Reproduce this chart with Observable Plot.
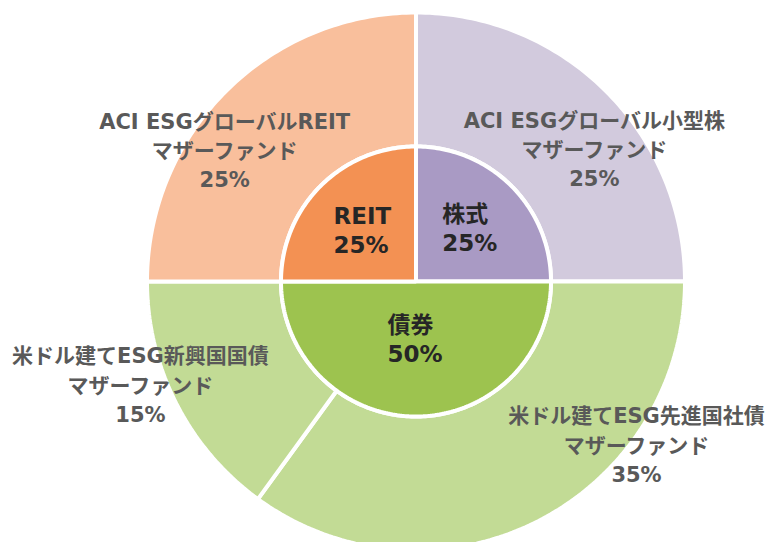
<!DOCTYPE html>
<html>
<head>
<meta charset="utf-8">
<script src="https://cdn.jsdelivr.net/npm/d3@7"></script>
<script src="https://cdn.jsdelivr.net/npm/@observablehq/plot@0.6"></script>
<style>
  html, body { margin: 0; padding: 0; background: #fff; }
  #chart svg { display: block; }
</style>
</head>
<body>
<div id="chart"></div>
<script>
// ---- data ----
const innerNames = ["株式", "債券", "REIT"];
const innerValues = [25, 50, 25];
const innerColors = ["#A99AC4", "#9DC34F", "#F39153"];

const outerNames = [
  "ACI ESGグローバル小型株\nマザーファンド",
  "米ドル建てESG先進国社債\nマザーファンド",
  "米ドル建てESG新興国国債\nマザーファンド",
  "ACI ESGグローバルREIT\nマザーファンド"
];
const outerValues = [25, 35, 15, 25];
const outerColors = ["#D2CADD", "#C2DB95", "#C2DB95", "#F9BF9C"];

// ---- layout ----
const W = 766, H = 542;
const CX = 415.5, CY = 281;
const R_OUT = 269, R_MID = 135;

// label placement (polar: angle clockwise from top, radius in px)
const innerLabelPlace = [[25.9, 60], [206.8, 63.3], [302.2, 97.5]];
const outerLabelPlace = [[53.1, 223], [126.3, 273.6], [249.7, 293.8], [304.8, 233]];

function polar(a, r) {
  const t = a * Math.PI / 180;
  return [r * Math.sin(t), r * Math.cos(t)];
}

function buildSlices(names, values, r0, r1, ring) {
  const total = d3.sum(values);
  let acc = 0;
  const pts = [];
  names.forEach((n, i) => {
    const a0 = acc / total * 360;
    acc += values[i];
    const a1 = acc / total * 360;
    const key = ring + i;
    const poly = [];
    const steps = Math.max(8, Math.ceil(a1 - a0));
    for (let s = 0; s <= steps; s++) poly.push(polar(a0 + (a1 - a0) * s / steps, r1));
    if (r0 > 0) {
      for (let s = steps; s >= 0; s--) poly.push(polar(a0 + (a1 - a0) * s / steps, r0));
    } else {
      poly.push([0, 0]);
    }
    poly.push(poly[0]);
    poly.forEach(([x, y]) => pts.push({x, y, key}));
  });
  return pts;
}

const outerPts = buildSlices(outerNames, outerValues, R_MID, R_OUT, "o");
const innerPts = buildSlices(innerNames, innerValues, 0, R_MID, "i");

const colorDomain = [...outerNames.map((_, i) => "o" + i), ...innerNames.map((_, i) => "i" + i)];
const colorRange = [...outerColors, ...innerColors];

const outerLabels = outerNames.map((n, i) => {
  const [x, y] = polar(...outerLabelPlace[i]);
  return {x, y, text: n + "\n" + outerValues[i] + "%"};
});
const innerLabels = innerNames.map((n, i) => {
  const [x, y] = polar(...innerLabelPlace[i]);
  return {x, y, text: n + "\n" + innerValues[i] + "%"};
});

const chart = Plot.plot({
  width: W,
  height: H,
  margin: 0,
  x: {domain: [-CX, W - CX], range: [0, W], axis: null},
  y: {domain: [CY - H, CY], range: [H, 0], axis: null},
  color: {domain: colorDomain, range: colorRange},
  style: {fontFamily: "'DejaVu Sans', 'Noto Sans CJK JP', sans-serif", background: "#fff"},
  marks: [
    Plot.line(outerPts, {x: "x", y: "y", z: "key", fill: "key", stroke: "#fff", strokeWidth: 4, strokeLinejoin: "miter"}),
    Plot.line(innerPts, {x: "x", y: "y", z: "key", fill: "key", stroke: "#fff", strokeWidth: 4, strokeLinejoin: "miter"}),
    Plot.text(outerLabels, {x: "x", y: "y", text: "text", fontSize: 21, fontWeight: "bold", fill: "#595959", lineHeight: 1.4, lineAnchor: "middle", textAnchor: "middle"}),
    Plot.text(innerLabels, {x: "x", y: "y", text: "text", fontSize: 23, fontWeight: "bold", fill: "#262626", lineHeight: 1.27, lineAnchor: "middle", textAnchor: "start"})
  ]
});
document.getElementById("chart").appendChild(chart);
</script>
</body>
</html>
